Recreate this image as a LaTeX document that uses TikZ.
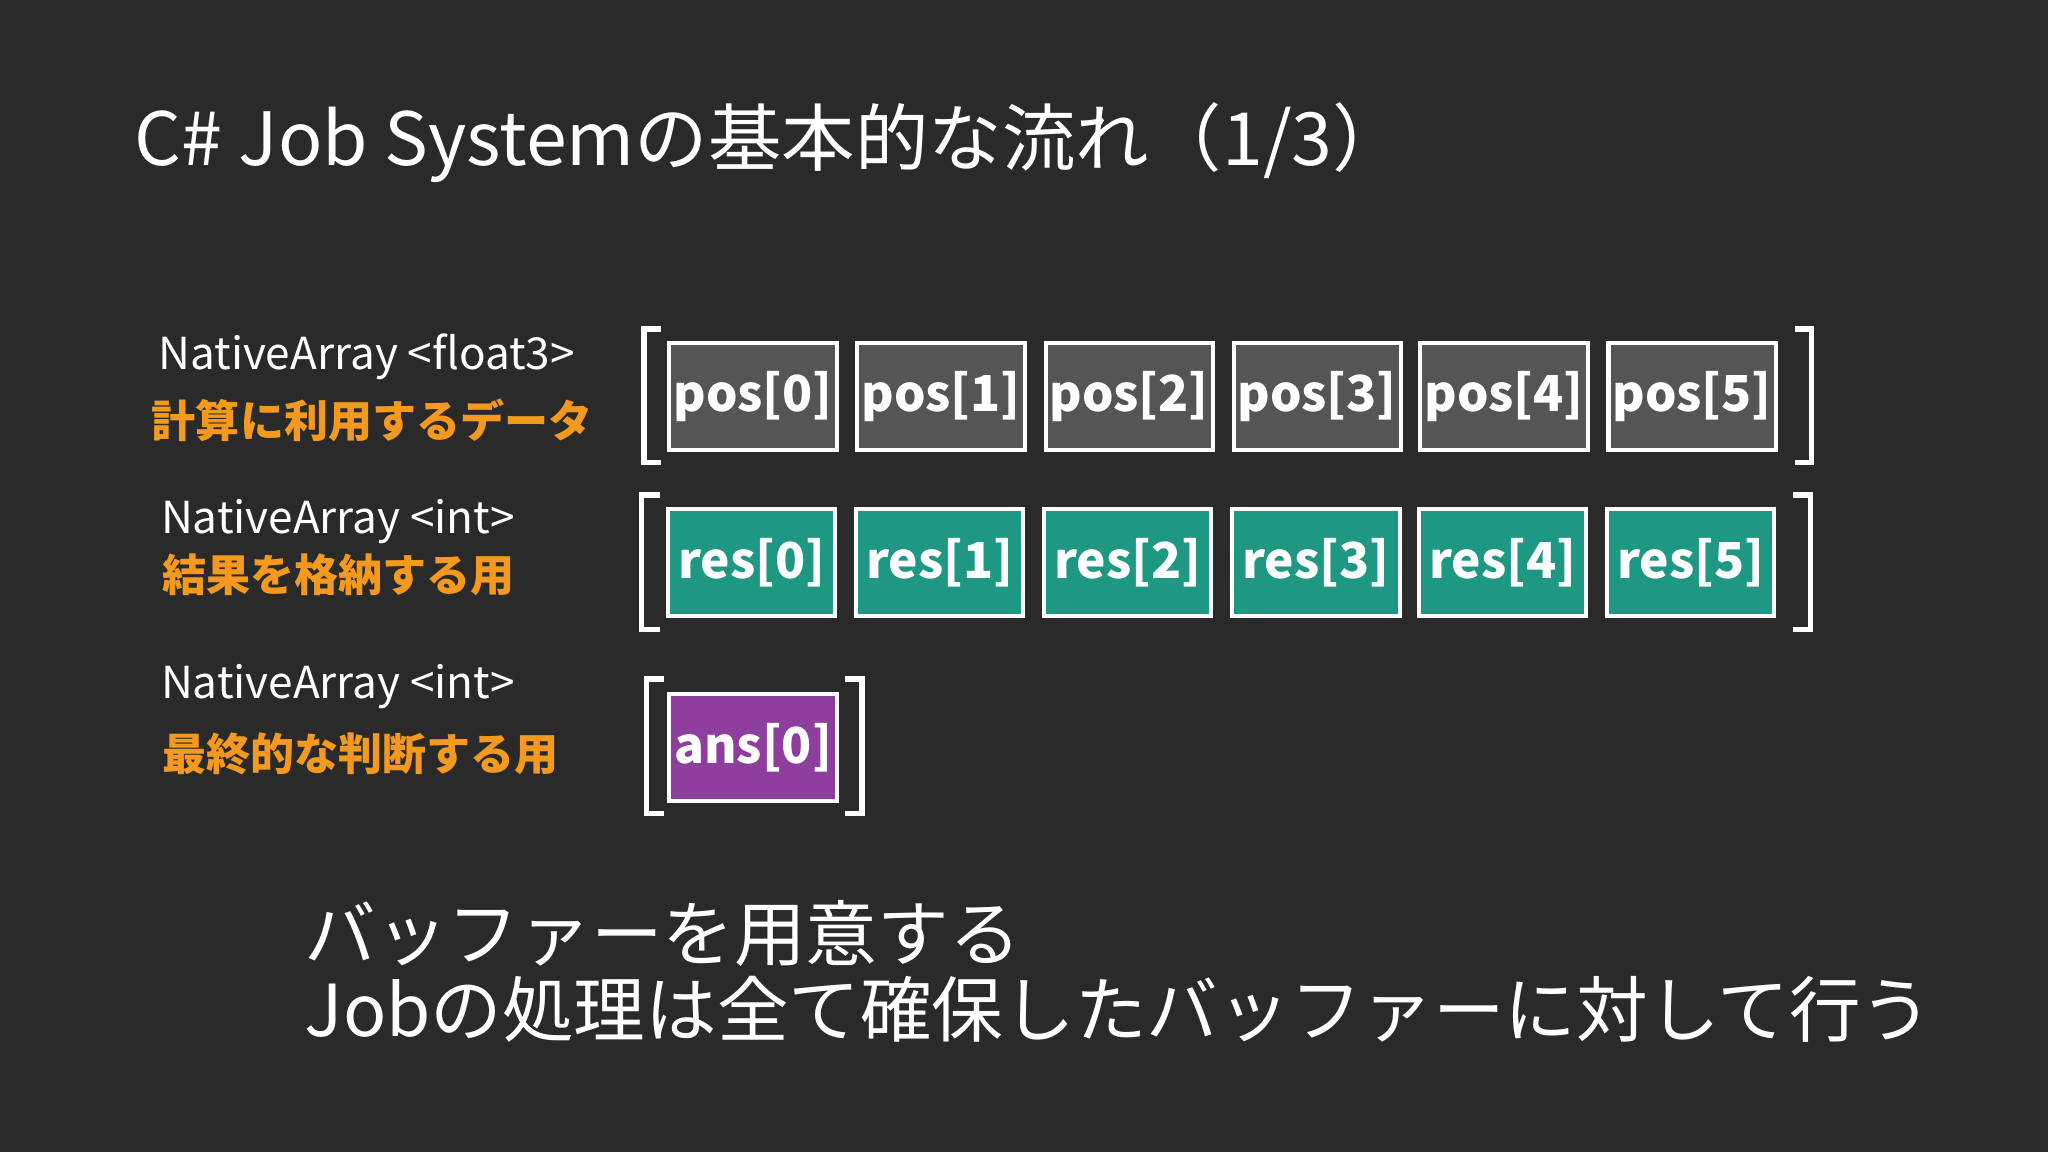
\documentclass[tikz,border=0pt]{standalone}
\usepackage{fontspec}
\setmainfont{Noto Sans CJK JP}
\definecolor{bg}{HTML}{2A2A2B}
\definecolor{org}{HTML}{F39A1E}
\definecolor{posc}{HTML}{555555}
\definecolor{resc}{HTML}{1E9882}
\definecolor{ansc}{HTML}{8E3F9E}
\tikzset{
 cell/.style={draw=white,line width=2.2pt,minimum width=128*0.25mm,minimum height=82*0.25mm,inner sep=0,text=white,font=\fontsize{27}{30}\selectfont\bfseries},
 lbl/.style={anchor=west,text=white,inner sep=0,font=\fontsize{24}{28}\selectfont},
 olbl/.style={anchor=west,text=org,inner sep=0,font=\fontsize{24}{28}\selectfont\bfseries},
 brk/.style={draw=white,line width=3pt}
}
\begin{document}
\begin{tikzpicture}[x=0.25mm,y=-0.25mm]
\fill[bg] (0,0) rectangle (1568,882);
\useasboundingbox (0,0) rectangle (1568,882);
\node[anchor=base west,text=white,inner sep=0,font=\fontsize{40}{44}\selectfont] (title) at (103,127) {C\# Job Systemの基本的な流れ（1/3）};
\node[lbl] (l1) at (121,273) {NativeArray <float3>};
\node[olbl] (o1) at (116,322) {計算に利用するデータ};
\node[lbl] (l2) at (123,399) {NativeArray <int>};
\node[olbl] (o2) at (124,440) {結果を格納する用};
\node[lbl] (l3) at (123,526) {NativeArray <int>};
\node[olbl] (o3) at (124,577) {最終的な判断する用};
\foreach \i/\x in {0/576.5,1/720.5,2/864.5,3/1008.5,4/1151.5,5/1295.5}{
 \node[cell,fill=posc] (p\i) at (\x,303.5) {pos[\i]};
 \node[cell,fill=resc] (r\i) at (\x-1,430.5) {res[\i]};
}
\node[cell,fill=ansc] (a0) at (576.5,572.5) {ans[0]};
\draw[brk] (506,252) -- (493,252) -- (493,354) -- (506,354);
\draw[brk] (1374,252) -- (1387,252) -- (1387,354) -- (1374,354);
\draw[brk] (505,379) -- (491,379) -- (491,482) -- (505,482);
\draw[brk] (1373,379) -- (1386,379) -- (1386,482) -- (1373,482);
\draw[brk] (508,520) -- (495,520) -- (495,623) -- (508,623);
\draw[brk] (647,520) -- (660,520) -- (660,623) -- (647,623);
\node[anchor=west,text=white,inner sep=0,font=\fontsize{39}{44}\selectfont] (b1) at (233,715) {バッファーを用意する};
\node[anchor=west,text=white,inner sep=0,font=\fontsize{39}{44}\selectfont] (b2) at (233,773) {Jobの処理は全て確保したバッファーに対して行う};
\end{tikzpicture}
\end{document}
